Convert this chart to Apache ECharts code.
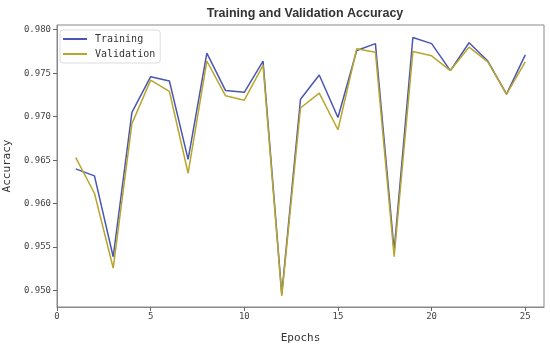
<!DOCTYPE html>
<html>
<head>
<meta charset="utf-8">
<script src="https://cdn.jsdelivr.net/npm/echarts@6/dist/echarts.min.js"></script>
<style>
html,body{margin:0;padding:0;background:#fff;}
#chart{width:550px;height:348px;}
</style>
</head>
<body>
<div id="chart"></div>
<script>
const epochs = [1,2,3,4,5,6,7,8,9,10,11,12,13,14,15,16,17,18,19,20,21,22,23,24,25];
const training = [0.9640,0.9632,0.9539,0.9705,0.9746,0.9741,0.9651,0.9773,0.9730,0.9728,0.9764,0.9496,0.9720,0.9748,0.9699,0.9776,0.9784,0.9546,0.9791,0.9784,0.9753,0.9785,0.9764,0.9726,0.9771];
const validation = [0.9653,0.9612,0.9526,0.9692,0.9742,0.9729,0.9635,0.9764,0.9724,0.9719,0.9759,0.9494,0.9710,0.9727,0.9685,0.9778,0.9774,0.9539,0.9775,0.9770,0.9753,0.9780,0.9763,0.9726,0.9763];
const xTicks = [0,5,10,15,20,25];
const yTicks = [0.950,0.955,0.960,0.965,0.970,0.975,0.980];

const mono = 'DejaVu Sans Mono';
const chart = echarts.init(document.getElementById('chart'));
chart.setOption({
  animation:false,
  backgroundColor:'#fff',
  title:{text:'Training and Validation Accuracy',left:300,textAlign:'center',top:2,
    textStyle:{fontFamily:'Liberation Sans',fontWeight:'bold',fontSize:12.5,color:'#333'}},
  legend:{show:true,left:60,top:30,orient:'vertical',itemWidth:24,itemHeight:2,itemGap:5,
    padding:[4,5,4,3],borderColor:'#ddd',borderWidth:1,borderRadius:3,backgroundColor:'#fff',
    icon:'rect',
    textStyle:{fontFamily:mono,fontSize:10,color:'#333',padding:[0,0,0,3]},
    data:['Training','Validation']},
  grid:{left:57,right:6,top:25,bottom:41,show:true,borderColor:'#888',borderWidth:1,
    containLabel:false,outerBoundsMode:'none'},
  xAxis:{type:'value',min:0,max:26,
    name:'Epochs',nameLocation:'middle',nameGap:26,
    nameTextStyle:{fontFamily:mono,fontSize:11,color:'#333'},
    axisLine:{show:true,lineStyle:{color:'#888'}},
    axisTick:{show:true,length:4,lineStyle:{color:'#666'},customValues:xTicks},
    axisLabel:{fontFamily:mono,fontSize:9,color:'#444',margin:5,customValues:xTicks},
    splitLine:{show:false}},
  yAxis:{type:'value',min:0.94812,max:0.98054,
    name:'Accuracy',nameLocation:'middle',nameGap:43,nameRotate:90,
    nameTextStyle:{fontFamily:mono,fontSize:11,color:'#333'},
    axisLine:{show:true,lineStyle:{color:'#888'}},
    axisTick:{show:true,length:4,lineStyle:{color:'#666'},customValues:yTicks},
    axisLabel:{fontFamily:mono,fontSize:9,color:'#444',margin:6,customValues:yTicks,
      formatter:v=>v.toFixed(3)},
    splitLine:{show:false}},
  series:[
    {name:'Training',type:'line',data:epochs.map((e,i)=>[e,training[i]]),
      showSymbol:false,lineStyle:{width:1.5,color:'#4a56b4'},itemStyle:{color:'#4a56b4'}},
    {name:'Validation',type:'line',data:epochs.map((e,i)=>[e,validation[i]]),
      showSymbol:false,lineStyle:{width:1.5,color:'#b8a62c'},itemStyle:{color:'#b8a62c'}}
  ]
});
</script>
</body>
</html>
